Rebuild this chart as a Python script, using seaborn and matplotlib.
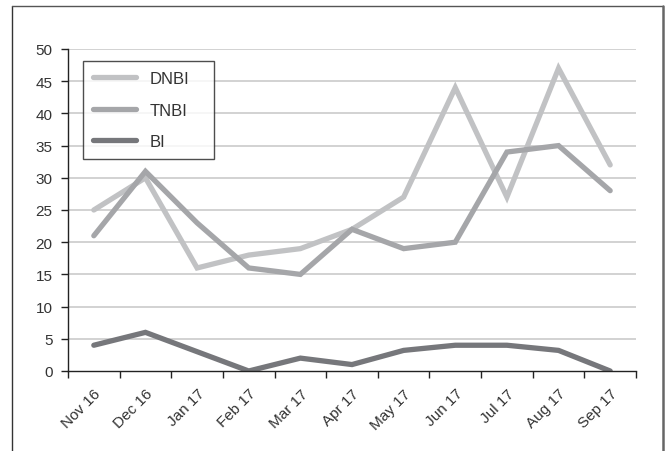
import numpy as np
import pandas as pd
import seaborn as sns
import matplotlib.pyplot as plt
from matplotlib.lines import Line2D

months = ["Nov 16", "Dec 16", "Jan 17", "Feb 17", "Mar 17", "Apr 17",
          "May 17", "Jun 17", "Jul 17", "Aug 17", "Sep 17"]
dnbi = [25, 30, 16, 18, 19, 22, 27, 44, 27, 47, 32]
tnbi = [21, 31, 23, 16, 15, 22, 19, 20, 34, 35, 28]
bi = [4, 6, 3, 0, 2, 1, 3.2, 4, 4, 3.2, 0]
series = ["DNBI", "TNBI", "BI"]
colors = ["#c1c2c4", "#a5a6a9", "#76777b"]

data = pd.DataFrame({
    "pos": list(range(len(months))) * 3,
    "value": dnbi + tnbi + bi,
    "series": np.repeat(series, len(months)),
})

sns.set_style("white")
plt.rcParams["font.family"] = ["Liberation Sans", "DejaVu Sans"]

fig = plt.figure(figsize=(6.67, 4.52), dpi=100)
ax = fig.add_axes([68 / 667, 1 - 372 / 452, (636 - 68) / 667,
                   (372 - 50) / 452])

for v in range(5, 55, 5):
    ax.axhline(v, color="#d2d2d2", lw=1.4, zorder=0)

sns.lineplot(data=data, x="pos", y="value", hue="series",
             palette=dict(zip(series, colors)), lw=3.8,
             solid_capstyle="round", solid_joinstyle="miter",
             ax=ax, legend=False)

ax.set_xlim(-0.5, len(months) - 0.5)
ax.set_ylim(0, 50)
ax.set_yticks(range(0, 55, 5))
# labels sit on category centres, tick marks on the boundaries
ax.set_xticks(range(len(months)))
ax.set_xticklabels(months)
ax.set_xticks(list(np.arange(len(months) + 1) - 0.5), minor=True)
ax.tick_params(axis="x", which="major", length=0, pad=11,
               labelsize=11, labelcolor="#333333", labelrotation=45)
ax.tick_params(axis="x", which="minor", length=5, width=1,
               color="#222222", direction="out", bottom=True)
ax.tick_params(axis="y", length=5, width=1, color="#222222",
               direction="out", left=True, labelsize=11,
               labelcolor="#333333", pad=6)
plt.setp(ax.get_xticklabels(), ha="right", rotation_mode="anchor")
ax.set_xlabel("")
ax.set_ylabel("")

for side in ["top", "right"]:
    ax.spines[side].set_visible(False)
for side in ["left", "bottom"]:
    ax.spines[side].set_color("#222222")
    ax.spines[side].set_linewidth(1)

handles = [Line2D([0], [0], color=c, lw=3.8, solid_capstyle="round")
           for c in colors]
leg = ax.legend(handles, series, loc="upper left", mode="expand",
                bbox_to_anchor=((83 - 68) / 568, (372 - 62) / 322,
                                (214 - 83) / 568, 0.0001),
                frameon=True, fancybox=False, edgecolor="#222222",
                fontsize=12, handlelength=2.6, handletextpad=0.8,
                labelspacing=1.0, borderpad=0.6, borderaxespad=0)
leg.get_frame().set_linewidth(1)
for t in leg.get_texts():
    t.set_color("#333333")

# outer frame
fig.add_artist(Line2D([12 / 667, 12 / 667], [0, 1 - 7 / 452],
                      color="#333333", lw=1, transform=fig.transFigure))
fig.add_artist(Line2D([12 / 667, 663 / 667], [1 - 7 / 452, 1 - 7 / 452],
                      color="#555555", lw=1, transform=fig.transFigure))
fig.add_artist(Line2D([663 / 667, 663 / 667], [0, 1 - 7 / 452],
                      color="#666666", lw=1.8, transform=fig.transFigure))

fig.savefig("out.png", dpi=100)
